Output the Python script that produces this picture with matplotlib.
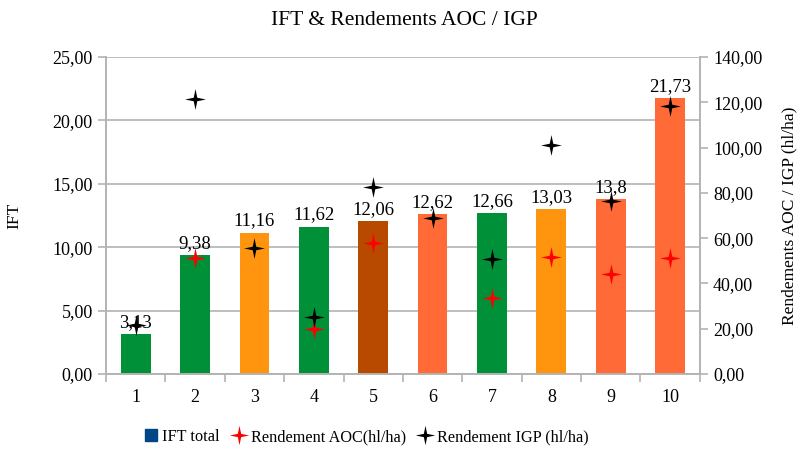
import numpy as np
import matplotlib
matplotlib.use("Agg")
import matplotlib.pyplot as plt
from matplotlib.path import Path
from matplotlib.lines import Line2D

plt.rcParams['font.family'] = ['Liberation Serif', 'DejaVu Serif']

# data
categories = ["1", "2", "3", "4", "5", "6", "7", "8", "9", "10"]
ift_total = [3.13, 9.38, 11.16, 11.62, 12.06, 12.62, 12.66, 13.03, 13.8, 21.73]
bar_colors = ["#009138", "#009138", "#ff950e", "#009138", "#b84a00",
              "#ff6a36", "#009138", "#ff950e", "#ff6a36", "#ff6a36"]
rdt_aoc = [np.nan, 51.1, np.nan, 19.7, 57.8, np.nan, 33.5, 51.6, 44.1, 51.4]
rdt_igp = [21.7, 121.4, 55.6, 25.3, 82.8, 69.1, 50.8, 100.9, 76.2, 118.5]

# thin 4-point star marker
r_in = 0.24
verts = []
for k in range(8):
    a = np.pi / 2 + k * np.pi / 4
    r = 1.0 if k % 2 == 0 else r_in
    verts.append((r * np.cos(a), r * np.sin(a)))
verts.append(verts[0])
codes = [Path.MOVETO] + [Path.LINETO] * 7 + [Path.CLOSEPOLY]
star4 = Path(verts, codes)

grey = "#b3b3b3"

fig = plt.figure(figsize=(8.09, 4.59), dpi=100)
ax = fig.add_axes([0.131, 0.185, 0.734, 0.691])
ax2 = ax.twinx()

x = np.arange(len(categories))
ax.bar(x, ift_total, width=0.5, color=bar_colors, zorder=2)
for xi, v in zip(x, ift_total):
    ax.text(xi, v + 0.25, repr(v).replace(".", ","), ha="center", va="bottom",
            fontsize=13.5, zorder=3)

ax2.plot(x, rdt_aoc, linestyle="none", marker=star4, markersize=15,
         color="red", markeredgewidth=0)
ax2.plot(x, rdt_igp, linestyle="none", marker=star4, markersize=15,
         color="black", markeredgewidth=0)

ax.set_xlim(-0.5, len(categories) - 0.5)
ax.set_ylim(0, 25)
ax2.set_ylim(0, 140)
ax.set_yticks(np.arange(0, 26, 5))
ax.set_yticklabels([f"{v:.2f}".replace(".", ",") for v in np.arange(0, 26, 5)])
ax2.set_yticks(np.arange(0, 141, 20))
ax2.set_yticklabels([f"{v:.2f}".replace(".", ",") for v in np.arange(0, 141, 20)])

ax.set_xticks(x)
ax.set_xticklabels(categories)
ax.set_xticks(np.arange(-0.5, len(categories), 1), minor=True)
ax.tick_params(axis="x", which="major", length=0, labelsize=13, pad=11)
ax.tick_params(axis="x", which="minor", length=6, color=grey, width=1.2)
ax.tick_params(axis="y", length=6, color=grey, width=1.2, labelsize=13)
ax2.tick_params(axis="y", length=6, color=grey, width=1.2, labelsize=13)

ax.yaxis.grid(True, color=grey, linewidth=1.2)
ax.set_axisbelow(True)
for a in (ax, ax2):
    for s in a.spines.values():
        s.set_color(grey)
        s.set_linewidth(1.2)
    a.spines["top"].set_visible(False)

ax.set_ylabel("IFT", fontsize=12.5, labelpad=22)
ax2.set_ylabel("Rendements AOC / IGP (hl/ha)", fontsize=12.5, labelpad=14)
fig.suptitle("IFT & Rendements AOC / IGP", fontsize=15.5, y=0.975)

handles = [
    Line2D([], [], linestyle="none", marker="s", markersize=8, color="#004586"),
    Line2D([], [], linestyle="none", marker=star4, markersize=14, color="red", markeredgewidth=0),
    Line2D([], [], linestyle="none", marker=star4, markersize=14, color="black", markeredgewidth=0),
]
fig.legend(handles, ["IFT total", "Rendement AOC(hl/ha)", "Rendement IGP (hl/ha)"],
           loc="center", bbox_to_anchor=(0.453, 0.048), ncol=3, frameon=False,
           fontsize=11.7, handlelength=0.8, handletextpad=0.3, columnspacing=0.8)

fig.savefig("out.png", dpi=100)
